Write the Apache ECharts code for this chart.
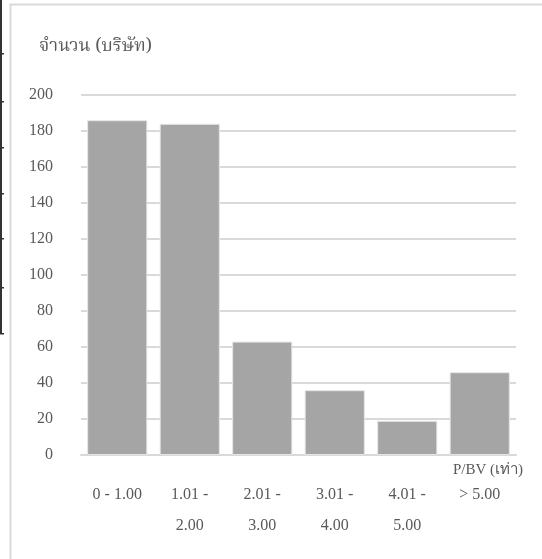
<!DOCTYPE html>
<html>
<head>
<meta charset="utf-8">
<script src="https://cdn.jsdelivr.net/npm/echarts@6/dist/echarts.min.js"></script>
<style>
  html, body { margin: 0; padding: 0; background: #fff; }
  #main { width: 542px; height: 559px; }
</style>
</head>
<body>
<div id="main"></div>
<script>
// ช่วง P/BV และจำนวนบริษัท
var categories = ['0 - 1.00', '1.01 -\n2.00', '2.01 -\n3.00', '3.01 -\n4.00', '4.01 -\n5.00', '> 5.00']
var counts = [186, 184, 63, 36, 19, 46]
var yTicks = { min: 0, max: 200, interval: 20 }

var serif = '"Liberation Serif", "Times New Roman", serif'
var thai = '"Noto Serif Thai", "Noto Sans Thai", Tahoma, "Noto Sans", serif'

// เส้นตารางที่ถูกตัดอยู่ทางซ้าย
var tableRows = [53, 101, 147, 193, 238, 287, 333]
var leftBits = [{
  type: 'rect', shape: { x: 0, y: 0, width: 2, height: 334 },
  style: { fill: '#333' }, silent: true
}]
tableRows.forEach(function (y) {
  leftBits.push({
    type: 'rect', shape: { x: 0, y: y, width: 4, height: 1.5 },
    style: { fill: '#333' }, silent: true
  })
})

var myChart = echarts.init(document.getElementById('main'))
myChart.setOption({
  animation: false,
  backgroundColor: '#fff',
  graphic: leftBits.concat([{
    type: 'rect',
    shape: { x: 10.5, y: 4.5, width: 560, height: 600 },
    style: { fill: null, stroke: '#d9d9d9', lineWidth: 2 },
    silent: true
  }]),
  title: [{
    text: 'จำนวน (บริษัท)',
    left: 34, top: 34,
    textStyle: { fontFamily: thai, fontSize: 18, fontWeight: 'normal', color: '#595959' }
  }, {
    text: 'P/BV (เท่า)',
    right: 14, top: 458,
    textStyle: { fontFamily: serif, fontSize: 15, fontWeight: 'normal', color: '#595959' }
  }],
  grid: { left: 81, right: 26, top: 95, bottom: 104, containLabel: false },
  xAxis: {
    type: 'category',
    data: categories,
    axisTick: { show: false },
    axisLine: { lineStyle: { color: '#d9d9d9', width: 2 } },
    axisLabel: {
      color: '#595959', fontFamily: serif, fontSize: 16,
      margin: 24, lineHeight: 31, interval: 0
    }
  },
  yAxis: {
    type: 'value',
    min: yTicks.min, max: yTicks.max, interval: yTicks.interval,
    axisLine: { show: false },
    axisTick: { show: false },
    splitLine: { lineStyle: { color: '#d9d9d9', width: 2 } },
    axisLabel: { color: '#595959', fontFamily: serif, fontSize: 16, margin: 28 }
  },
  series: [{
    type: 'bar',
    data: counts,
    barCategoryGap: '17%',
    itemStyle: { color: '#a5a5a5', borderColor: '#e6e6e6', borderWidth: 1 }
  }]
})
</script>
</body>
</html>
